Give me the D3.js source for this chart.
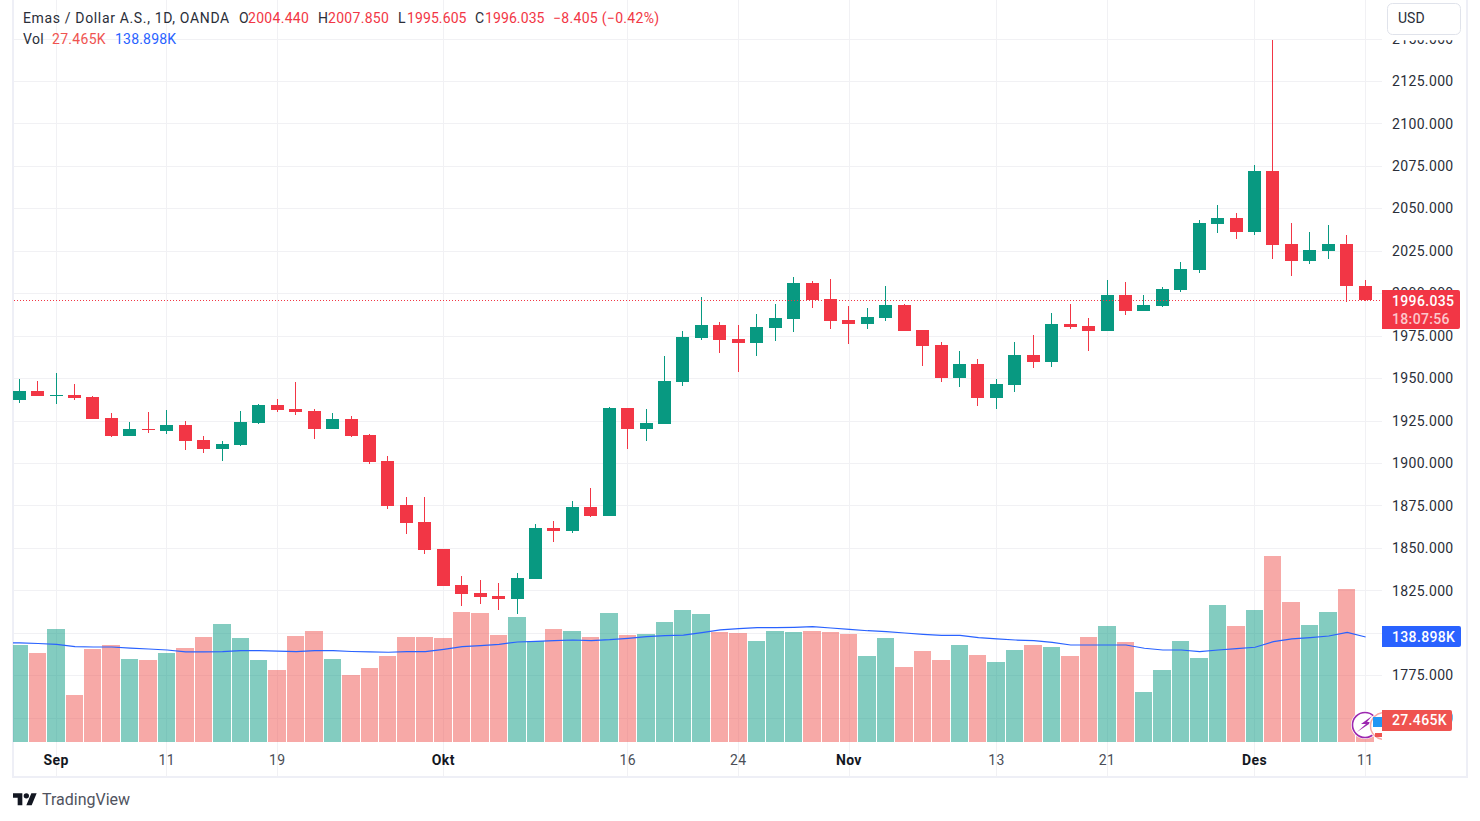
<!DOCTYPE html>
<html lang="en">
<head>
  <meta charset="utf-8">
  <title>Emas / Dollar A.S., 1D, OANDA</title>
  <style>
    html,body { margin:0; padding:0; overflow:hidden; background:#fff; }
    svg  { display:block; }
    text { font-family:Roboto,"Liberation Sans",sans-serif; font-size:14px; }
    .axis path, .axis line { display:none; }
    .axis text { font-family:Roboto,"Liberation Sans",sans-serif; font-size:14px; fill:#2a2e39; letter-spacing:.35px; }
  </style>
  <script src="https://d3js.org/d3.v7.min.js"></script>
</head>
<body>
  <svg width="1480" height="821"></svg>

  <script>
  /* ---------- data ---------- */
  const opens  = [1937.0,1942.3,1939.4,1940.0,1938.8,1926.4,1915.8,1920.0,1918.8,1922.3,1913.5,1908.2,1910.5,1923.5,1934.1,1931.7,1930.6,1920.0,1925.9,1916.4,1901.1,1875.2,1865.2,1849.3,1828.1,1823.4,1821.6,1819.9,1831.6,1861.7,1859.9,1874.0,1868.7,1932.3,1920.0,1922.9,1947.6,1973.6,1981.2,1973.0,1970.6,1979.4,1984.7,2005.9,1996.5,1984.2,1981.8,1985.3,1993.0,1978.3,1969.4,1950.0,1958.2,1938.2,1945.9,1963.5,1959.4,1981.8,1980.6,1977.7,1998.9,1989.5,1992.4,2001.8,2013.6,2040.7,2044.2,2036.0,2071.9,2028.9,2018.9,2024.8,2028.9,2004.44];
  const highs  = [1949.4,1948.2,1952.9,1946.5,1939.4,1929.4,1924.1,1930.0,1931.2,1924.7,1915.8,1912.9,1930.6,1934.7,1937.6,1947.6,1931.7,1929.4,1927.6,1917.0,1904.1,1879.9,1879.9,1849.3,1833.4,1831.0,1829.3,1835.2,1864.0,1865.8,1877.6,1885.2,1932.9,1932.3,1931.7,1963.0,1977.7,1997.7,1983.0,1981.2,1987.7,1993.6,2009.5,2007.1,2008.3,1992.4,1991.2,2004.2,1993.6,1978.3,1971.2,1965.9,1961.2,1949.4,1971.2,1975.3,1988.3,1993.6,1985.3,2007.7,2006.5,1998.9,2003.6,2018.3,2043.0,2051.9,2047.2,2075.4,2149.0,2041.3,2036.0,2040.1,2034.2,2007.85];
  const lows   = [1935.3,1939.4,1934.7,1937.0,1925.9,1915.3,1915.8,1917.6,1917.0,1907.6,1905.8,1901.1,1910.0,1922.9,1930.0,1928.2,1914.1,1920.0,1915.3,1899.4,1872.9,1858.1,1846.4,1827.5,1815.7,1816.9,1813.4,1811.0,1831.6,1853.4,1858.7,1868.1,1868.7,1908.2,1912.9,1922.9,1945.3,1972.4,1964.7,1953.5,1963.0,1971.8,1977.1,1991.2,1978.9,1970.0,1978.9,1983.6,1977.7,1957.1,1947.6,1944.7,1933.5,1931.7,1941.8,1955.9,1956.5,1978.9,1965.9,1977.7,1987.1,1989.5,1991.8,2000.6,2011.8,2035.4,2031.9,2034.2,2020.1,2010.1,2017.1,2020.1,1994.8,1995.605];
  const closes = [1942.3,1939.4,1940.0,1938.2,1925.9,1915.8,1920.0,1919.4,1922.3,1912.9,1908.2,1911.1,1924.1,1934.1,1931.2,1930.0,1920.0,1925.9,1915.8,1900.5,1874.6,1864.6,1848.7,1827.5,1822.8,1821.0,1819.9,1832.2,1861.7,1859.9,1874.0,1868.7,1932.3,1920.0,1923.5,1948.2,1974.1,1981.2,1972.4,1970.6,1980.0,1985.3,2005.9,1995.9,1983.6,1981.8,1985.9,1993.0,1977.7,1968.8,1950.0,1958.2,1938.2,1946.5,1963.5,1959.4,1981.8,1980.0,1977.7,1998.9,1989.5,1993.0,2002.4,2014.2,2041.3,2044.2,2036.0,2071.9,2028.3,2018.9,2025.4,2028.9,2004.2,1996.035];
  const volumes = [128.3,117.7,149.5,62.2,123.0,128.3,109.8,108.5,117.7,124.3,138.9,156.1,137.6,108.5,95.2,140.2,146.8,109.8,88.6,97.9,113.8,138.9,138.9,137.6,172.0,170.6,141.5,165.4,133.6,149.5,146.8,138.9,170.6,141.5,142.9,158.7,174.6,169.3,145.5,144.2,133.6,146.8,145.5,146.8,145.5,142.9,113.8,137.6,99.2,120.4,108.5,128.3,115.1,105.8,121.7,128.3,125.7,113.8,138.9,153.4,132.3,66.1,95.2,133.6,111.1,181.2,153.4,174.6,246.0,185.2,154.8,172.0,202.4,27.465];
  // first value belongs to the bar just left of the visible range
  const volumeMa = [131.4,131.0,130.3,129.2,126.1,125.7,125.7,124.3,123.0,121.7,119.1,119.1,119.5,120.8,120.8,120.1,119.5,120.8,120.8,119.7,119.1,118.7,119.5,119.5,122.6,126.1,127.4,129.2,132.3,133.2,134.0,134.9,134.0,135.3,137.2,139.3,140.6,141.5,144.6,148.2,149.9,151.2,151.2,151.7,152.5,150.8,149.1,147.2,145.9,144.2,142.5,141.1,141.1,138.0,136.3,134.9,134.0,131.9,128.3,128.3,128.3,128.3,124.0,121.7,121.7,119.5,121.7,123.4,125.3,132.7,136.3,138.0,140.2,145.1,138.898];

  const priceTicks = d3.range(1750, 2151, 25);
  const timeTickBars   = [2, 8, 14, 23, 33, 39, 45, 53, 59, 67, 73];
  const timeTickLabels = ["Sep", "11", "19", "Okt", "16", "24", "Nov", "13", "21", "Des", "11"];
  const monthLabels = ["Sep", "Okt", "Nov", "Des"];

  /* ---------- colours ---------- */
  const UP = "#089981", DOWN = "#f23645", VOL_DOWN = "#ef5350", BLUE = "#2962ff";
  const GRID = "#f1f1f4", BORDER = "#eeeff6", INK = "#2a2e39";

  /* ---------- scales ---------- */
  const paneLeft = 14, paneRight = 1382, paneTop = 40, volBase = 742;
  const x = d3.scaleLinear().domain([0, 73]).range([19.2, 1365.15]);
  const y = d3.scaleLinear().domain([1750, 2150]).range([717.7, 38.5]);
  const yVol = d3.scaleLinear().domain([0, 138.898]).range([volBase, 637]);
  const px = i => Math.floor(x(i));
  const volLeft = i => Math.ceil(x(i) - 9.45);

  const svg = d3.select("svg");
  const defs = svg.append("defs");
  defs.append("clipPath").attr("id", "pane").append("rect")
    .attr("x", paneLeft - 1).attr("y", 0).attr("width", paneRight - paneLeft + 1).attr("height", 776);
  defs.append("clipPath").attr("id", "priceAxis").append("rect")
    .attr("x", 0).attr("y", paneTop).attr("width", 84).attr("height", 736);

  /* ---------- frame ---------- */
  svg.append("rect").attr("x", 12).attr("y", 0).attr("width", 2).attr("height", 778).attr("fill", BORDER);
  svg.append("rect").attr("x", 1466).attr("y", 0).attr("width", 2).attr("height", 778).attr("fill", BORDER);
  svg.append("rect").attr("x", 12).attr("y", 776).attr("width", 1456).attr("height", 2).attr("fill", BORDER);

  /* ---------- grid ---------- */
  const grid = svg.append("g").attr("clip-path", "url(#pane)");
  grid.selectAll("line.h").data(priceTicks).join("line").attr("class", "h")
    .attr("x1", paneLeft).attr("x2", paneRight)
    .attr("y1", d => Math.round(y(d)) + .5).attr("y2", d => Math.round(y(d)) + .5)
    .attr("stroke", GRID);
  grid.selectAll("line.v").data(timeTickBars).join("line").attr("class", "v")
    .attr("y1", 0).attr("y2", 776)
    .attr("x1", d => Math.floor(x(d) + .15) + .5).attr("x2", d => Math.floor(x(d) + .15) + .5)
    .attr("stroke", GRID);

  /* ---------- volume + its moving average ---------- */
  const pane = svg.append("g").attr("clip-path", "url(#pane)");
  pane.selectAll("rect.vol").data(volumes).join("rect").attr("class", "vol")
    .attr("x", (d, i) => volLeft(i))
    .attr("width", (d, i) => volLeft(i + 1) - volLeft(i) - 1)
    .attr("y", d => Math.round(yVol(d)))
    .attr("height", d => volBase - Math.round(yVol(d)))
    .attr("fill", (d, i) => closes[i] >= opens[i] ? UP : VOL_DOWN)
    .attr("fill-opacity", .5);

  pane.append("path")
    .attr("d", d3.line().x((d, i) => x(i - 1) + .5).y(d => yVol(d))(volumeMa))
    .attr("fill", "none").attr("stroke", BLUE).attr("stroke-width", 1.2);

  /* ---------- candles ---------- */
  const candles = svg.append("g").attr("clip-path", "url(#pane)");
  candles.selectAll("rect.wick").data(d3.range(opens.length)).join("rect").attr("class", "wick")
    .attr("x", px).attr("width", 1)
    .attr("y", i => Math.round(y(highs[i])))
    .attr("height", i => Math.round(y(lows[i])) - Math.round(y(highs[i])))
    .attr("fill", i => closes[i] >= opens[i] ? UP : DOWN);
  candles.selectAll("rect.body").data(d3.range(opens.length)).join("rect").attr("class", "body")
    .attr("x", i => px(i) - 6)
    .attr("width", 13)
    .attr("y", i => Math.round(y(Math.max(opens[i], closes[i]))))
    .attr("height", i => Math.max(1, Math.round(y(Math.min(opens[i], closes[i]))) - Math.round(y(Math.max(opens[i], closes[i])))))
    .attr("fill", i => closes[i] >= opens[i] ? UP : DOWN);

  /* last price line */
  const lastClose = closes[closes.length - 1];
  svg.append("line")
    .attr("x1", paneLeft).attr("x2", paneRight)
    .attr("y1", Math.round(y(lastClose)) + .5).attr("y2", Math.round(y(lastClose)) + .5)
    .attr("stroke", DOWN).attr("stroke-dasharray", "1 2");

  /* ---------- event badges bottom right ---------- */
  const badges = svg.append("g").attr("clip-path", "url(#pane)");
  badges.append("circle").attr("cx", 1365).attr("cy", 725).attr("r", 14).attr("fill", "#fff");
  badges.append("circle").attr("cx", 1365).attr("cy", 725).attr("r", 12.5)
    .attr("fill", "#fff").attr("stroke", "#9c27b0").attr("stroke-width", 1.6);
  badges.append("path").attr("d", "M1372 716l-11 8h5l-9 8 15-10h-5z").attr("fill", "#9c27b0");
  badges.append("circle").attr("cx", 1384).attr("cy", 726).attr("r", 15).attr("fill", "#fff");
  badges.append("circle").attr("cx", 1384).attr("cy", 726).attr("r", 13.5)
    .attr("fill", "#fff").attr("stroke", "#f7a9a7").attr("stroke-width", 1.5);
  badges.append("path").attr("d", "M1373 717h9v10h-9z").attr("fill", "#2196f3");
  badges.append("path").attr("d", "M1375 733h7v4h-7z").attr("fill", "#ef5350");

  /* ---------- price axis ---------- */
  svg.append("g").attr("class", "axis").attr("clip-path", "url(#priceAxis)")
    .attr("transform", "translate(1382,.2)")
    .call(d3.axisRight(y).tickValues(priceTicks).tickFormat(d3.format(".3f")).tickSize(0).tickPadding(10));

  /* ---------- time axis ---------- */
  const timeAxis = svg.append("g").attr("class", "axis")
    .attr("transform", "translate(-.5,751.5)")
    .call(d3.axisBottom(x).tickValues(timeTickBars).tickFormat((d, i) => timeTickLabels[i]).tickSize(0).tickPadding(4));
  timeAxis.selectAll("text")
    .style("font-weight", (d, i) => monthLabels.includes(timeTickLabels[i]) ? 700 : 400)
    .style("fill", (d, i) => monthLabels.includes(timeTickLabels[i]) ? "#131722" : "#4a4e58");

  /* ---------- price axis labels ---------- */
  function tag(y0, h, w, color, r) {
    svg.append("path")
      .attr("d", `M1382 ${y0}h${w - r}q${r} 0 ${r} ${r}v${h - 2 * r}q0 ${r} -${r} ${r}h-${w - r}z`)
      .attr("fill", color);
  }
  function tagText(t, ty, fill, weight) {
    svg.append("text").attr("x", 1392).attr("y", ty).attr("dy", ".35em")
      .attr("fill", fill).attr("font-weight", weight || 400)
      .attr("letter-spacing", ".35px").text(t);
  }
  tag(290, 39, 78, DOWN, 2);
  tagText(d3.format(".3f")(lastClose), 301, "#fff", 500);
  tagText("18:07:56", 319, "#fcc6cb", 500);
  tag(626, 21, 79, BLUE, 2);
  tagText("138.898K", 637, "#fff", 500);
  tag(710, 21, 70, VOL_DOWN, 2);
  tagText("27.465K", 720.5, "#fff", 500);

  /* ---------- currency button ---------- */
  svg.append("rect").attr("x", 1387.5).attr("y", 3.5).attr("width", 73).attr("height", 31).attr("rx", 5)
    .attr("fill", "#fff").attr("stroke", "#e0e3eb");
  svg.append("text").attr("x", 1398).attr("y", 18.5).attr("dy", ".35em").attr("fill", INK).text("USD");

  /* ---------- legend ---------- */
  const legendRows = [
    [[23, "Emas / Dollar A.S., 1D, OANDA", INK, .65], [239, "O", INK, .3], [248, "2004.440", DOWN, .3], [318, "H", INK, .3], [328, "2007.850", DOWN, .3],
     [398, "L", INK, .3], [407, "1995.605", DOWN, .1], [475, "C", INK, .3], [485, "1996.035", DOWN, .1], [553, "−8.405 (−0.42%)", DOWN, .3]],
    [[23, "Vol", INK, .3], [52, "27.465K", VOL_DOWN, .3], [115, "138.898K", BLUE, .2]]
  ];
  legendRows.forEach((row, r) => {
    row.forEach(([lx, t, c, ls]) => {
      svg.append("text").attr("x", lx).attr("y", 18 + r * 21).attr("dy", ".35em")
        .attr("fill", c).attr("letter-spacing", ls + "px").text(t);
    });
  });

  /* ---------- logo ---------- */
  const logo = svg.append("g").attr("transform", "translate(13,790.5) scale(.667)").attr("fill", "#131722");
  logo.append("path").attr("d", "M14 22H7V11H0V4h14v18zM28 22h-8l7.5-18h8L28 22z");
  logo.append("circle").attr("cx", 20).attr("cy", 8).attr("r", 4);
  svg.append("text").attr("x", 42).attr("y", 799).attr("dy", ".35em")
    .attr("fill", "#50535e").style("font-size", "16px").text("TradingView");
  </script>
</body>
</html>
